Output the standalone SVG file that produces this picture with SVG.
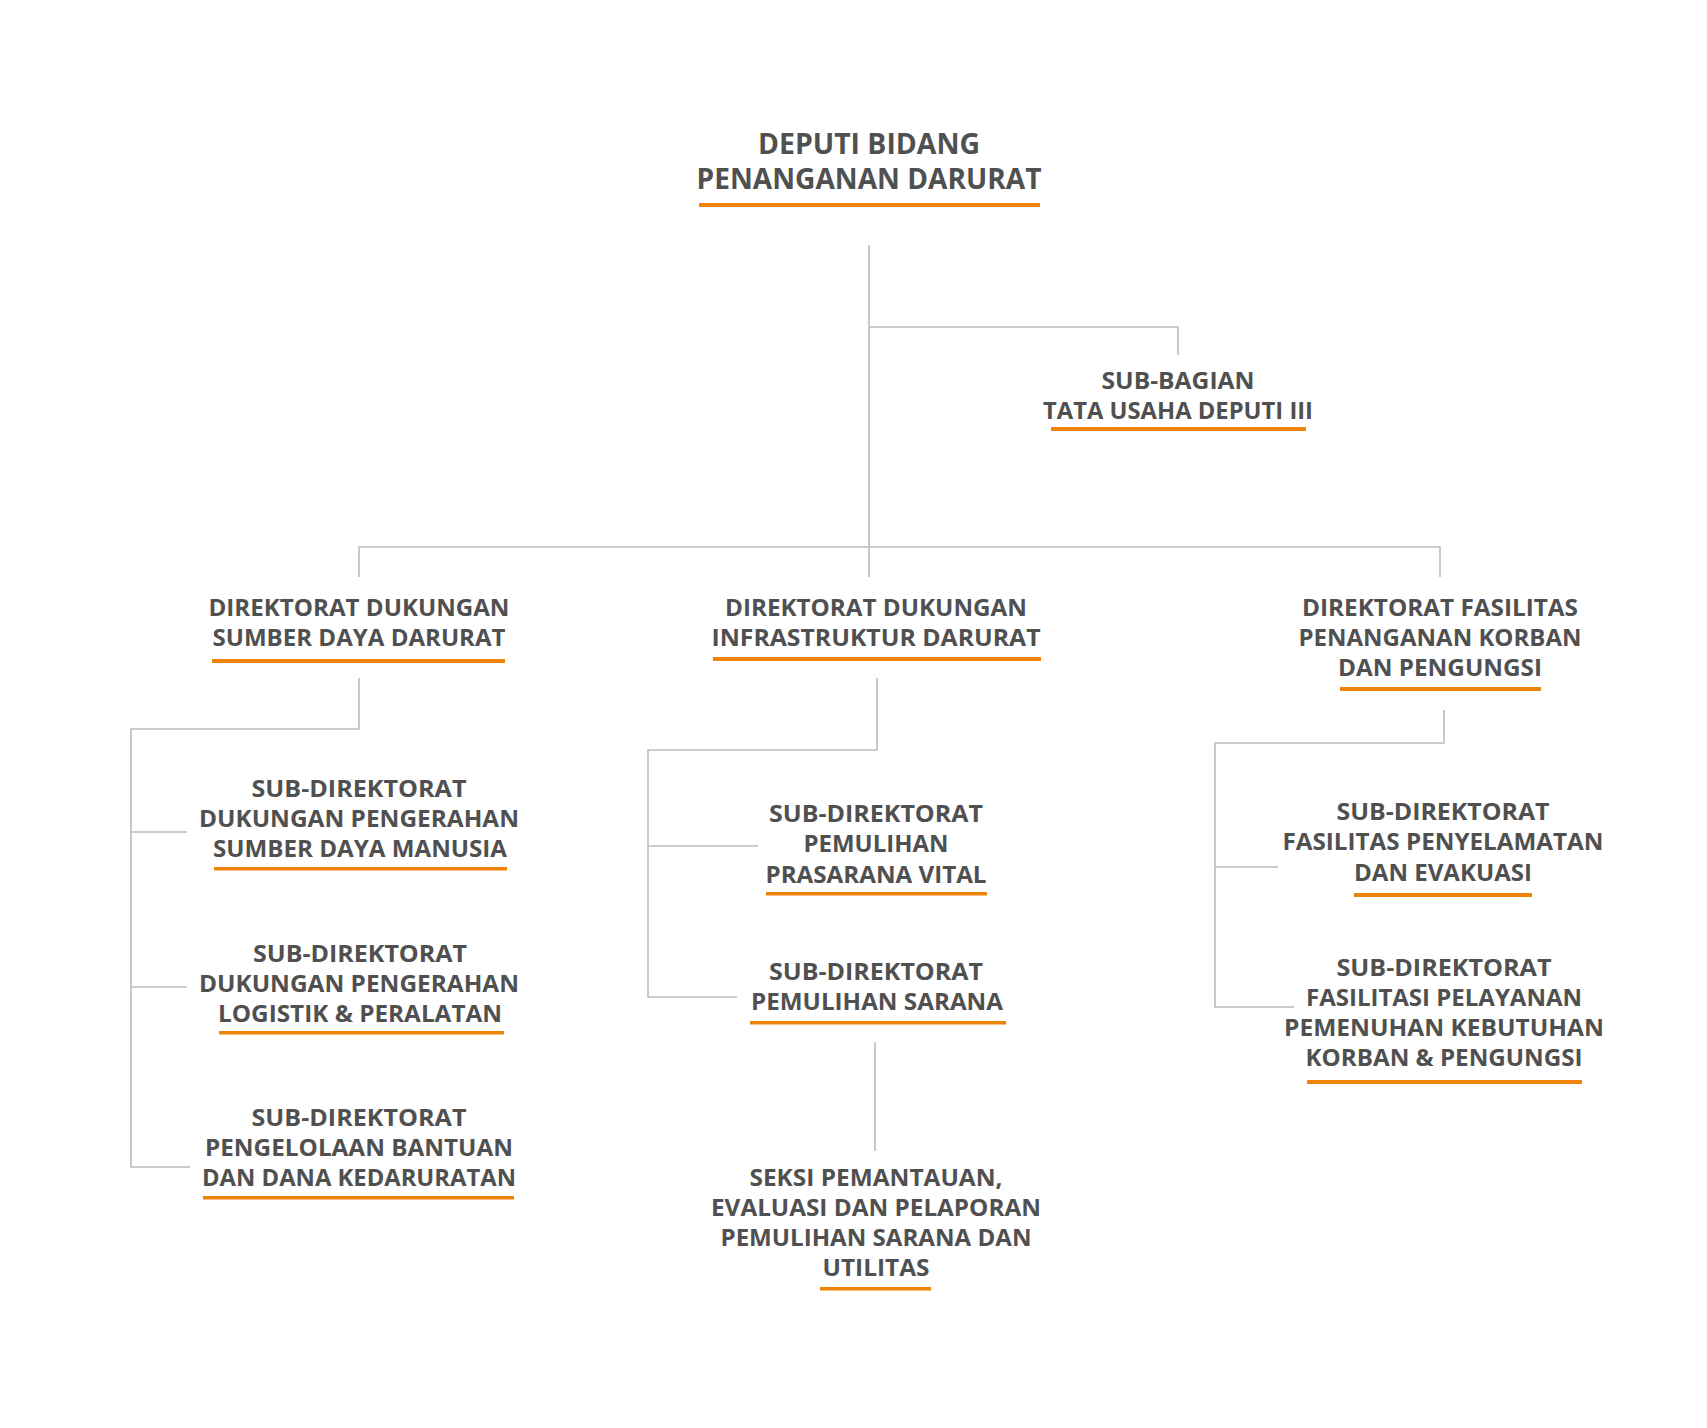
<svg xmlns="http://www.w3.org/2000/svg" width="1707" height="1428" viewBox="0 0 1707 1428">
<style>
text{font-family:"Open Sans","Noto Sans","Liberation Sans",sans-serif;font-weight:700;fill:#505050;text-anchor:middle}
.t{font-size:23px}
.h{font-size:28px}
.ul{fill:#f08408}
.c{fill:none;stroke:#bcbcbc;stroke-width:1.6}
</style>
<rect width="1707" height="1428" fill="#ffffff"/>
<g id="connectors">
<path class="c" d="M869 245V577M869 327H1178V355M359 577V547H1440V577"/>
<path class="c" d="M359 678V729H131V1167H190M131 832H187M131 987H187"/>
<path class="c" d="M877 678V750H648V997H737M648 846H758"/>
<path class="c" d="M875 1042V1151"/>
<path class="c" d="M1444 710V743H1215V1007H1294M1215 867H1278"/>
</g>
<g id="deputi">
<text class="h" x="869" y="154" textLength="222" lengthAdjust="spacingAndGlyphs">DEPUTI BIDANG</text>
<text class="h" x="869" y="189" textLength="345" lengthAdjust="spacingAndGlyphs">PENANGANAN DARURAT</text>
<rect class="ul" x="699" y="203" width="341" height="4"/>
</g>
<g id="subbagian">
<text class="t" x="1178" y="389" textLength="153" lengthAdjust="spacingAndGlyphs">SUB-BAGIAN</text>
<text class="t" x="1178" y="419" textLength="270" lengthAdjust="spacingAndGlyphs">TATA USAHA DEPUTI III</text>
<rect class="ul" x="1051" y="427" width="255" height="4"/>
</g>
<g id="dir-sumber-daya">
<text class="t" x="359" y="616" textLength="301" lengthAdjust="spacingAndGlyphs">DIREKTORAT DUKUNGAN</text>
<text class="t" x="359" y="646" textLength="293" lengthAdjust="spacingAndGlyphs">SUMBER DAYA DARURAT</text>
<rect class="ul" x="212" y="659" width="293" height="4"/>
</g>
<g id="dir-infrastruktur">
<text class="t" x="876" y="616" textLength="302" lengthAdjust="spacingAndGlyphs">DIREKTORAT DUKUNGAN</text>
<text class="t" x="876" y="646" textLength="329" lengthAdjust="spacingAndGlyphs">INFRASTRUKTUR DARURAT</text>
<rect class="ul" x="713" y="657" width="328" height="4"/>
</g>
<g id="dir-fasilitas">
<text class="t" x="1440" y="616" textLength="276" lengthAdjust="spacingAndGlyphs">DIREKTORAT FASILITAS</text>
<text class="t" x="1440" y="646" textLength="283" lengthAdjust="spacingAndGlyphs">PENANGANAN KORBAN</text>
<text class="t" x="1440" y="676" textLength="204" lengthAdjust="spacingAndGlyphs">DAN PENGUNGSI</text>
<rect class="ul" x="1340" y="687" width="201" height="4"/>
</g>
<g id="subdir-sdm">
<text class="t" x="359" y="797" textLength="215" lengthAdjust="spacingAndGlyphs">SUB-DIREKTORAT</text>
<text class="t" x="359" y="827" textLength="320" lengthAdjust="spacingAndGlyphs">DUKUNGAN PENGERAHAN</text>
<text class="t" x="360" y="857" textLength="294" lengthAdjust="spacingAndGlyphs">SUMBER DAYA MANUSIA</text>
<rect class="ul" x="214" y="867" width="293" height="3.5"/>
</g>
<g id="subdir-logistik">
<text class="t" x="360" y="962" textLength="214" lengthAdjust="spacingAndGlyphs">SUB-DIREKTORAT</text>
<text class="t" x="359" y="992" textLength="320" lengthAdjust="spacingAndGlyphs">DUKUNGAN PENGERAHAN</text>
<text class="t" x="360" y="1022" textLength="284" lengthAdjust="spacingAndGlyphs">LOGISTIK &amp; PERALATAN</text>
<rect class="ul" x="219" y="1031" width="285" height="3.5"/>
</g>
<g id="subdir-bantuan">
<text class="t" x="359" y="1126" textLength="215" lengthAdjust="spacingAndGlyphs">SUB-DIREKTORAT</text>
<text class="t" x="359" y="1156" textLength="308" lengthAdjust="spacingAndGlyphs">PENGELOLAAN BANTUAN</text>
<text class="t" x="359" y="1186" textLength="314" lengthAdjust="spacingAndGlyphs">DAN DANA KEDARURATAN</text>
<rect class="ul" x="203" y="1196" width="311" height="3.5"/>
</g>
<g id="subdir-prasarana">
<text class="t" x="876" y="822" textLength="214" lengthAdjust="spacingAndGlyphs">SUB-DIREKTORAT</text>
<text class="t" x="876" y="852" textLength="145" lengthAdjust="spacingAndGlyphs">PEMULIHAN</text>
<text class="t" x="876" y="883" textLength="221" lengthAdjust="spacingAndGlyphs">PRASARANA VITAL</text>
<rect class="ul" x="766" y="892" width="221" height="3.5"/>
</g>
<g id="subdir-sarana">
<text class="t" x="876" y="980" textLength="214" lengthAdjust="spacingAndGlyphs">SUB-DIREKTORAT</text>
<text class="t" x="877" y="1010" textLength="252" lengthAdjust="spacingAndGlyphs">PEMULIHAN SARANA</text>
<rect class="ul" x="750" y="1021" width="256" height="3.5"/>
</g>
<g id="seksi">
<text class="t" x="876" y="1186" textLength="253" lengthAdjust="spacingAndGlyphs">SEKSI PEMANTAUAN,</text>
<text class="t" x="876" y="1216" textLength="330" lengthAdjust="spacingAndGlyphs">EVALUASI DAN PELAPORAN</text>
<text class="t" x="876" y="1246" textLength="311" lengthAdjust="spacingAndGlyphs">PEMULIHAN SARANA DAN</text>
<text class="t" x="876" y="1276" textLength="107" lengthAdjust="spacingAndGlyphs">UTILITAS</text>
<rect class="ul" x="820" y="1287" width="111" height="3.5"/>
</g>
<g id="subdir-penyelamatan">
<text class="t" x="1443" y="820" textLength="213" lengthAdjust="spacingAndGlyphs">SUB-DIREKTORAT</text>
<text class="t" x="1443" y="850" textLength="321" lengthAdjust="spacingAndGlyphs">FASILITAS PENYELAMATAN</text>
<text class="t" x="1443" y="881" textLength="178" lengthAdjust="spacingAndGlyphs">DAN EVAKUASI</text>
<rect class="ul" x="1354" y="893" width="178" height="4"/>
</g>
<g id="subdir-pelayanan">
<text class="t" x="1444" y="976" textLength="215" lengthAdjust="spacingAndGlyphs">SUB-DIREKTORAT</text>
<text class="t" x="1444" y="1006" textLength="276" lengthAdjust="spacingAndGlyphs">FASILITASI PELAYANAN</text>
<text class="t" x="1444" y="1036" textLength="320" lengthAdjust="spacingAndGlyphs">PEMENUHAN KEBUTUHAN</text>
<text class="t" x="1444" y="1066" textLength="277" lengthAdjust="spacingAndGlyphs">KORBAN &amp; PENGUNGSI</text>
<rect class="ul" x="1307" y="1080" width="275" height="4"/>
</g>
</svg>
